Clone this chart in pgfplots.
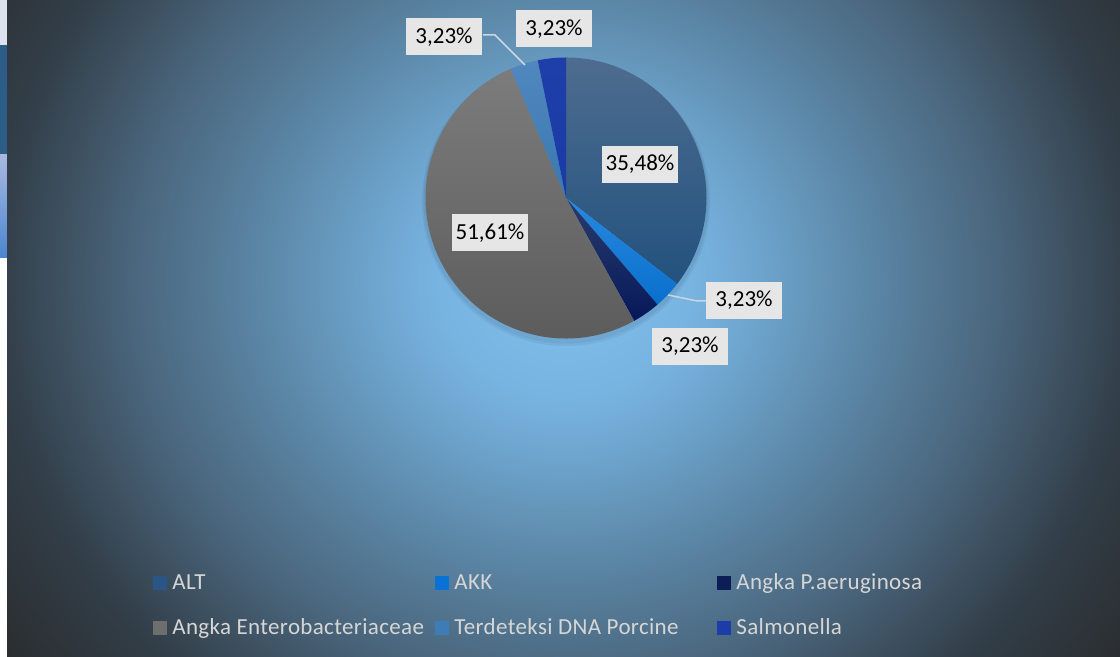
\documentclass[border=0pt]{standalone}
\usepackage{pgfplots}
\pgfplotsset{compat=1.18}
\usepackage{pgfplotstable}
\usepackage{fontspec}
\setmainfont{Carlito}

% slice colours (top / bottom of the light gradient)
\definecolor{top0}{HTML}{4E6C8F}\definecolor{bot0}{HTML}{22527E}
\definecolor{top1}{HTML}{2A88E0}\definecolor{bot1}{HTML}{0870CC}
\definecolor{top2}{HTML}{2A3C6C}\definecolor{bot2}{HTML}{06185A}
\definecolor{top3}{HTML}{7C7C7C}\definecolor{bot3}{HTML}{5A5A5A}
\definecolor{top4}{HTML}{5088BE}\definecolor{bot4}{HTML}{3A77B0}
\definecolor{top5}{HTML}{1E3EAA}\definecolor{bot5}{HTML}{1A3AA6}
\definecolor{leg0}{HTML}{2A5585}
\definecolor{leg1}{HTML}{0A72D4}
\definecolor{leg2}{HTML}{0D1D55}
\definecolor{leg3}{HTML}{6E6E6E}
\definecolor{leg4}{HTML}{3D7CB5}
\definecolor{leg5}{HTML}{1C3CA8}
\definecolor{legtext}{HTML}{D6D6D6}
\definecolor{labfill}{HTML}{E6E6E6}
\definecolor{leader}{HTML}{C9D6E2}

\definecolor{bg0}{HTML}{80C0EE}
\definecolor{bg1}{HTML}{78B4E2}
\definecolor{bg2}{HTML}{6EA5CE}
\definecolor{bg3}{HTML}{5C88A8}
\definecolor{bg4}{HTML}{4A667D}
\definecolor{bg5}{HTML}{323E48}
\definecolor{bg6}{HTML}{2A2C2E}
% stops up to 25bp: that radius is fitted to half the shaded box
\pgfdeclareradialshading{bgrad}{\pgfpoint{0bp}{0bp}}{%
  color(0bp)=(bg0); color(4.45bp)=(bg1); color(6.8bp)=(bg2);
  color(10.7bp)=(bg3); color(15.45bp)=(bg4); color(20.3bp)=(bg5);
  color(25bp)=(bg6); color(50bp)=(bg6)}

\tikzset{lab/.style={fill=labfill, text=black, inner xsep=0pt, inner ysep=0pt,
    minimum height=18.5pt, font=\fontsize{11.5}{13.8}\selectfont}}

\pgfplotstableread[col sep=comma]{
name,value,lx,ly
ALT,35.48,640,492.5
AKK,3.23,744,356.5
Angka P.aeruginosa,3.23,690,310.5
Angka Enterobacteriaceae,51.61,490,424
Terdeteksi DNA Porcine,3.23,444,620
Salmonella,3.23,554,628
}\piedata

\begin{document}
\begin{tikzpicture}
% angles of the slices, clockwise from 12 o'clock
\def\cum{0}
\pgfplotsforeachungrouped \i in {0,...,5}{%
  \pgfplotstablegetelem{\i}{value}\of\piedata
  \let\v\pgfplotsretval
  \expandafter\xdef\csname pv\i\endcsname{\v}%
  \pgfmathsetmacro\sa{90-3.6*\cum}%
  \pgfmathsetmacro\cum{\cum+\v}%
  \pgfmathsetmacro\sb{90-3.6*\cum}%
  \pgfmathsetmacro\px{566+140.5*cos(\sa)}%
  \pgfmathsetmacro\py{459+140.5*sin(\sa)}%
  \expandafter\xdef\csname pa\i\endcsname{\sa}%
  \expandafter\xdef\csname pb\i\endcsname{\sb}%
  \expandafter\xdef\csname px\i\endcsname{\px}%
  \expandafter\xdef\csname py\i\endcsname{\py}%
  \pgfplotstablegetelem{\i}{lx}\of\piedata
  \expandafter\xdef\csname lx\i\endcsname{\pgfplotsretval}%
  \pgfplotstablegetelem{\i}{ly}\of\piedata
  \expandafter\xdef\csname ly\i\endcsname{\pgfplotsretval}%
}
\begin{axis}[
  at={(0,0)}, anchor=south west,
  width=560pt, height=328.5pt, scale only axis,
  xmin=0, xmax=1120, ymin=0, ymax=657,
  hide axis, clip=false,
  legend columns=3, legend cell align=left,
  legend image code/.code={\fill[#1, draw=none] (0pt,-3.5pt) rectangle (7pt,3.5pt);},
  legend style={at={(axis cs:147,89)}, anchor=north west,
    draw=none, fill=none, text=legtext,
    font=\fontsize{11.5}{13.8}\selectfont\addfontfeatures{LetterSpace=1.5},
    nodes={inner sep=0pt, text height=8.5pt, text depth=2.5pt},
    row sep=11.5pt,
    /tikz/every odd column/.append style={column sep=2.5pt}},
]
% background of the chart area
\fill[white] (axis cs:0,0) rectangle (axis cs:7,657);
\fill[fill={rgb,255:red,221;green,226;blue,240}] (axis cs:0,612) rectangle (axis cs:7,657);
\fill[fill={rgb,255:red,45;green,92;blue,134}] (axis cs:0,502) rectangle (axis cs:7,612);
\shade[top color={rgb,255:red,168;green,184;blue,224}, bottom color={rgb,255:red,74;green,134;blue,208}]
  (axis cs:0,399) rectangle (axis cs:7,502);
\begin{scope}
  \clip (axis cs:7,0) rectangle (axis cs:1120,657);
  \shade[shading=bgrad] (axis cs:-135,-271) rectangle (axis cs:1265,1025);
\end{scope}
% soft shadow under the pie
\fill[black, opacity=0.05] (axis cs:566,455) circle[radius=144];
\fill[black, opacity=0.05] (axis cs:566,456) circle[radius=142.5];
% slices
\pgfplotsinvokeforeach{0,...,5}{
  \shade[top color=top#1, bottom color=bot#1]
    (axis cs:566,459) -- (axis cs:\csname px#1\endcsname,\csname py#1\endcsname)
    arc[start angle=\csname pa#1\endcsname, end angle=\csname pb#1\endcsname, radius=140.5]
    -- cycle;
}
% leader lines
\draw[leader, line width=0.75pt] (axis cs:668,362) -- (axis cs:697,356) -- (axis cs:706,356);
\draw[leader, line width=0.75pt] (axis cs:525,592) -- (axis cs:495,622) -- (axis cs:483,622);
% data labels
\pgfplotsinvokeforeach{0,...,5}{
  \node[lab, minimum width=38pt] at (axis cs:\csname lx#1\endcsname,\csname ly#1\endcsname)
    {\pgfmathprintnumber[use comma,fixed,fixed zerofill,precision=2,assume math mode=true]{\csname pv#1\endcsname}\%};
}
% legend
\addlegendimage{fill=leg0, draw=none}\addlegendentry{\makebox[131.5pt][l]{ALT}}
\addlegendimage{fill=leg1, draw=none}\addlegendentry{\makebox[131.5pt][l]{AKK}}
\addlegendimage{fill=leg2, draw=none}\addlegendentry{Angka P.aeruginosa}
\addlegendimage{fill=leg3, draw=none}\addlegendentry{\makebox[131.5pt][l]{Angka Enterobacteriaceae}}
\addlegendimage{fill=leg4, draw=none}\addlegendentry{\makebox[131.5pt][l]{Terdeteksi DNA Porcine}}
\addlegendimage{fill=leg5, draw=none}\addlegendentry{Salmonella}
\end{axis}
\end{tikzpicture}
\end{document}
